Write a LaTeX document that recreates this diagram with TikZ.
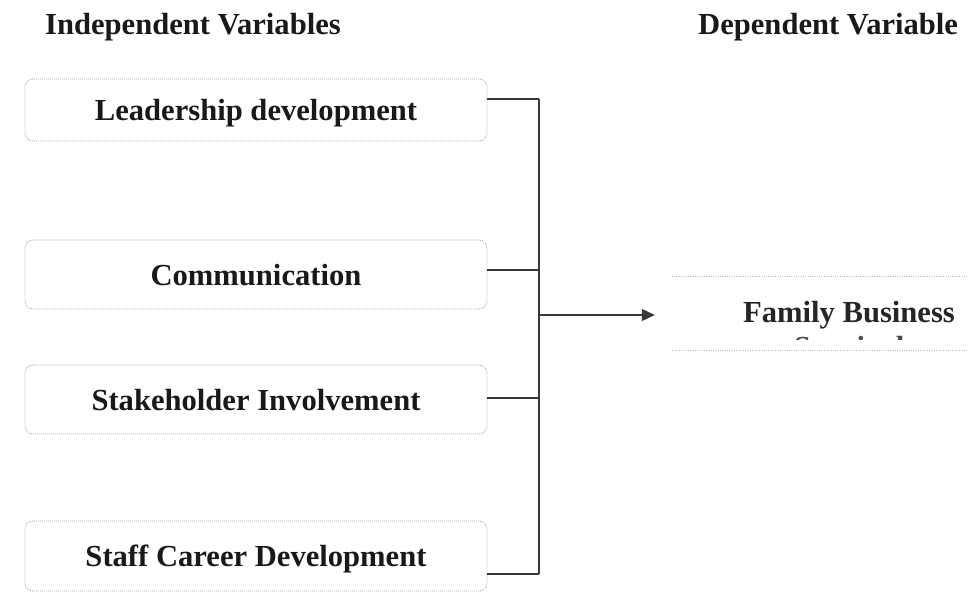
\documentclass[tikz,border=0pt]{standalone}
\usepackage{fontspec}
\setmainfont{Liberation Serif}
\usetikzlibrary{arrows.meta}
\newcommand\diagbold{\fontsize{30.6}{33}\selectfont\bfseries}
\begin{document}
\begin{tikzpicture}[x=1pt,y=-1pt,
  ivbox/.style={draw=black!38, line width=0.8pt, dash pattern=on 0.8pt off 1.2pt,
    rounded corners=8pt, minimum width=462pt, inner sep=0pt,
    text height=21pt, text depth=0pt, font=\diagbold, text=black!90},
  headline/.style={font=\diagbold, text=black!90, inner sep=0pt, anchor=base west},
  famtext/.style={font=\diagbold, text=black!85, inner sep=0pt, anchor=base},
  faintline/.style={draw=black!28, line width=0.8pt, dash pattern=on 0.8pt off 1.5pt},
  conn/.style={draw=black!78, line width=1.1pt},
  tip/.style={-{Triangle[length=13pt,width=12pt]}}
]
\useasboundingbox (0,0) rectangle (968,594);

% headings
\node[headline] (tInd) at (45,35) {Independent Variables};
\node[headline] (tDep) at (698,35) {Dependent Variable};

% independent variable boxes
\node[ivbox, minimum height=62pt] (b1) at (256,110) {Leadership development};
\node[ivbox, minimum height=69pt] (b2) at (256,274.5) {Communication};
\node[ivbox, minimum height=69pt] (b3) at (256,399.5) {Stakeholder Involvement};
\node[ivbox, minimum height=70pt] (b4) at (256,556) {Staff Career Development};

% dependent variable box
\node[inner sep=0pt, minimum width=296pt, minimum height=73pt] (fam) at (820,313.5) {};
\draw[faintline] (fam.north west) -- (fam.north east);
\draw[faintline] (fam.south west) -- (fam.south east);
\node[famtext] (famlabel) at (849,322) {Family Business};
\begin{scope}
  \clip (fam.north west) rectangle ([yshift=11pt]fam.south east);
  \node[famtext, text=black!70] (famlabel2) at (849,357) {Survival};
\end{scope}

% junctions
\coordinate (j1) at (539,99);
\coordinate (j2) at (539,270);
\coordinate (j3) at (539,398);
\coordinate (j4) at (539,574);
\coordinate (jm) at (539,315);

% connectors
\draw[conn] (b1.east |- j1) -- (j1);
\draw[conn] (b2.east |- j2) -- (j2);
\draw[conn] (b3.east |- j3) -- (j3);
\draw[conn] (b4.east |- j4) -- (j4);
\draw[conn] (j1) -- (j4);
\draw[conn, tip, shorten >=17pt] (jm) -- (fam.west |- jm);
\end{tikzpicture}
\end{document}
